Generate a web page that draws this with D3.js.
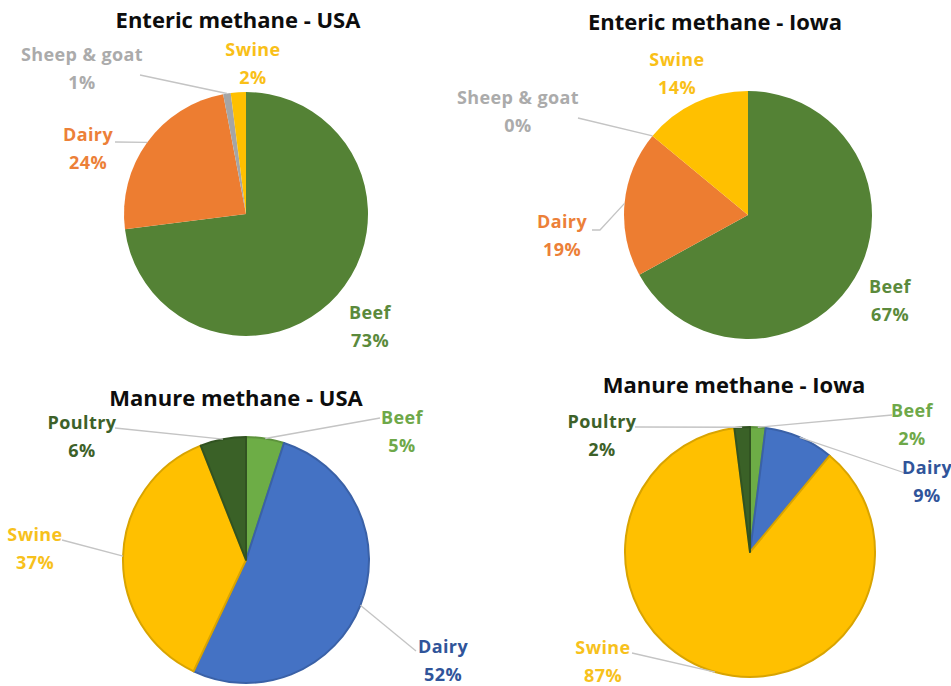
<!DOCTYPE html>
<html>
<head>
<meta charset="utf-8">
<script src="https://cdn.jsdelivr.net/npm/d3@7"></script>
<style>
  html, body { margin: 0; padding: 0; background: #ffffff; }
  svg { display: block; }
  text { font-family: "Open Sans", "Liberation Sans", sans-serif; font-weight: 700; }
</style>
</head>
<body>
<svg id="chart" width="951" height="686"></svg>
<script>
// Methane emission shares by livestock type (percent)
const chartTitles = ["Enteric methane - USA", "Enteric methane - Iowa",
                     "Manure methane - USA", "Manure methane - Iowa"];
const entericCategories = ["Beef", "Dairy", "Sheep & goat", "Swine"];
const entericUSA  = [73, 24, 1, 2];
const entericIowa = [67, 19, 0, 14];
const manureCategories = ["Beef", "Dairy", "Swine", "Poultry"];
const manureUSA  = [5, 52, 37, 6];
const manureIowa = [2, 9, 87, 2];

// Slice fills and label colours per category
const entericFill  = {"Beef": "#548235", "Dairy": "#ED7D31", "Sheep & goat": "#A5A5A5", "Swine": "#FFC000"};
const entericText  = {"Beef": "#5B8A3C", "Dairy": "#EC8038", "Sheep & goat": "#ABABAB", "Swine": "#F9C018"};
const manureFill   = {"Beef": "#6DAD46", "Dairy": "#4472C4", "Swine": "#FFC000", "Poultry": "#3A6127"};
const manureText   = {"Beef": "#6EA849", "Dairy": "#30549A", "Swine": "#F7C11C", "Poultry": "#3D6129"};

// Layout: pie centre, radius, title position, and label placement
// (label offsets relative to the pie centre; leader = label-side start point)
const layout = [
  { cx: 246, cy: 214, r: 122, title: [238, 20], stroke: false,
    labels: {
      "Beef":         { at: [124, 99] },
      "Dairy":        { at: [-158, -79], leader: [-131, -72] },
      "Sheep & goat": { at: [-164, -159], leader: [-106, -139] },
      "Swine":        { at: [7, -164] }
    } },
  { cx: 748, cy: 215, r: 124, title: [715, 22], stroke: false,
    labels: {
      "Beef":         { at: [142, 72] },
      "Dairy":        { at: [-186, 7], leader: [-156, 15], elbow: [-148, 15] },
      "Sheep & goat": { at: [-230, -117], leader: [-170, -97] },
      "Swine":        { at: [-71, -155] }
    } },
  { cx: 246, cy: 560, r: 123, title: [236, 398], stroke: true,
    labels: {
      "Beef":    { at: [156, -142], leader: [134, -142] },
      "Dairy":   { at: [197, 87], leader: [170, 91] },
      "Swine":   { at: [-211, -25], leader: [-184, -20] },
      "Poultry": { at: [-164, -137], leader: [-131, -132] }
    } },
  { cx: 750, cy: 552, r: 125, title: [734, 385], stroke: true,
    labels: {
      "Beef":    { at: [162, -141], leader: [142, -137] },
      "Dairy":   { at: [177, -84], leader: [155, -79] },
      "Swine":   { at: [-147, 96], leader: [-118, 101] },
      "Poultry": { at: [-148, -130], leader: [-115, -125] }
    } }
];

const datasets = [
  { cats: entericCategories, vals: entericUSA,  fill: entericFill, text: entericText },
  { cats: entericCategories, vals: entericIowa, fill: entericFill, text: entericText },
  { cats: manureCategories,  vals: manureUSA,   fill: manureFill,  text: manureText },
  { cats: manureCategories,  vals: manureIowa,  fill: manureFill,  text: manureText }
];

const svg = d3.select("#chart");
const pie = d3.pie().sort(null).value(d => d.value).startAngle(0).endAngle(2 * Math.PI);

datasets.forEach((ds, i) => {
  const L = layout[i];
  const g = svg.append("g").attr("transform", `translate(${L.cx},${L.cy})`);
  const rows = ds.cats.map((c, k) => ({ cat: c, value: ds.vals[k] }));
  const arcs = pie(rows);
  const arc = d3.arc().innerRadius(0).outerRadius(L.r);

  // slices
  g.selectAll("path.slice")
    .data(arcs)
    .join("path")
    .attr("class", "slice")
    .attr("d", arc)
    .attr("fill", d => ds.fill[d.data.cat])
    .attr("stroke", d => L.stroke ? d3.color(ds.fill[d.data.cat]).darker(0.45) : "none")
    .attr("stroke-width", L.stroke ? 2 : 0)
    .attr("stroke-linejoin", "round");

  // leader lines from label to the slice's mid-angle on the rim
  arcs.forEach(d => {
    const lab = L.labels[d.data.cat];
    if (!lab || !lab.leader) return;
    const mid = (d.startAngle + d.endAngle) / 2;
    const edge = [L.r * Math.sin(mid), -L.r * Math.cos(mid)];
    const pts = [lab.leader];
    if (lab.elbow) pts.push(lab.elbow);
    pts.push(edge);
    g.append("path")
      .attr("d", d3.line()(pts))
      .attr("fill", "none")
      .attr("stroke", "#C4C4C4")
      .attr("stroke-width", 1.3);
  });

  // data labels: category and percentage on two lines
  arcs.forEach(d => {
    const lab = L.labels[d.data.cat];
    if (!lab) return;
    const t = g.append("text")
      .attr("text-anchor", "middle")
      .attr("fill", ds.text[d.data.cat])
      .attr("font-size", 18)
      .attr("letter-spacing", 0.4);
    t.append("tspan").attr("x", lab.at[0]).attr("y", lab.at[1] + 6).text(d.data.cat);
    t.append("tspan").attr("x", lab.at[0]).attr("y", lab.at[1] + 34).text(d.data.value + "%");
  });

  // chart title
  svg.append("text")
    .attr("x", L.title[0])
    .attr("y", L.title[1] + 8)
    .attr("text-anchor", "middle")
    .attr("fill", "#0d0d0d")
    .attr("font-size", 22)
    .text(chartTitles[i]);
});
</script>
</body>
</html>
